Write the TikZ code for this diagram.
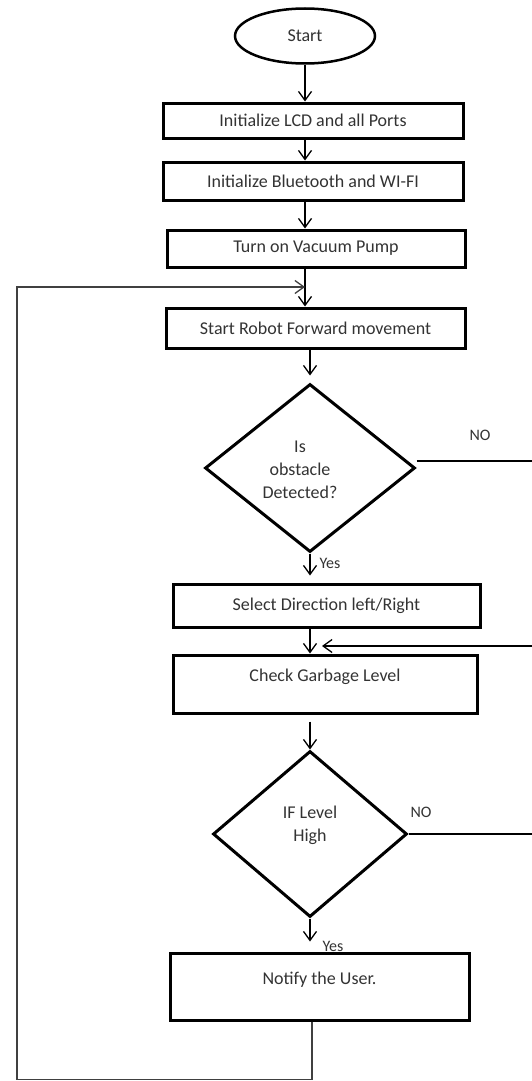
\documentclass[tikz,border=0pt]{standalone}
\usepackage{fontspec}
\setmainfont{Carlito}
\usetikzlibrary{shapes.geometric,arrows.meta}
\begin{document}
\begin{tikzpicture}[x=1pt,y=-1pt,
  txt/.style={font=\fontsize{18}{23}\selectfont, text=black!80},
  stepbox/.style={txt, draw, rectangle, line width=3pt, inner sep=0pt},
  decision/.style={txt, draw, diamond, line width=3pt, inner sep=0pt},
  terminal/.style={txt, draw, ellipse, line width=2.5pt, inner sep=0pt},
  lbl/.style={font=\fontsize{16}{19}\selectfont, text=black!80, inner sep=0pt},
  flow/.style={line width=1.3pt, -{Straight Barb[length=9pt,width=13pt,line width=1.3pt]}},
  wire/.style={line width=1.3pt}
]
\useasboundingbox (0,0) rectangle (532,1081);

% process column
\node[terminal, minimum width=140, minimum height=55] (start) at (305,36) {Start};
\node[stepbox, minimum width=300, minimum height=35] (b1) at (313,120.5) {Initialize LCD and all Ports};
\node[stepbox, minimum width=300, minimum height=38] (b2) at (313,181) {Initialize Bluetooth and WI-FI};
\node[stepbox, minimum width=298, minimum height=37] (b3) at (316,248.5) {Turn on Vacuum Pump};
\node[stepbox, minimum width=299, minimum height=40] (b4) at (315.5,328) {Start Robot Forward movement};
\node[decision, minimum width=210, minimum height=168] (d1) at (310,468) {};
\node[txt, align=center] (d1t) at (300,470) {Is\\obstacle\\Detected?};
\node[stepbox, minimum width=307, minimum height=43] (b5) at (326.5,605.5) {Select Direction left/Right};
\node[stepbox, minimum width=304, minimum height=58] (b6) at (325,684) {\raisebox{18pt}{Check Garbage Level}};
\node[decision, minimum width=194, minimum height=166] (d2) at (310,834) {};
\node[txt, align=center] (d2t) at (310,825) {IF Level\\High};
\node[stepbox, minimum width=299, minimum height=67] (b7) at (319.5,986.5) {\raisebox{17pt}{Notify the User.}};

% branch labels
\node[lbl] (no1) at (480,435) {NO};
\node[lbl] (yes1) at (330,563) {Yes};
\node[lbl] (no2) at (421,812) {NO};
\node[lbl] (yes2) at (333,946) {Yes};

% helper points
\coordinate (c1) at (305,0);
\coordinate (loopin) at (305,287);
\coordinate (ret) at (322,646);
\coordinate (rx) at (555,0);

% straight flow
\draw[flow] (start.south -| c1) -- (b1.north -| c1);
\draw[flow] (b1.south -| c1) -- (b2.north -| c1);
\draw[flow] (b2.south -| c1) -- (b3.north -| c1);
\draw[flow] (b3.south -| c1) -- (b4.north -| c1);
\draw[flow, shorten >=7pt] (b4.south -| d1) -- (d1.north);
\draw[flow, shorten >=7pt] (d1.south) -- (b5.north -| d1);
\draw[flow] (b5.south -| d1) -- (b6.north -| d1);
\draw[flow] ([yshift=-7pt]b6.south -| d2) -- (d2.north);
\draw[flow, shorten >=10pt] (d2.south) -- (b7.north -| d2);

% NO branches back to the garbage check
\draw[flow] ([yshift=7pt]d1.east) -- ([yshift=7pt]d1.east -| rx) |- (ret);
\draw[wire] (d2.east) -- (d2.east -| rx) -- (ret -| rx);

% loop back to forward movement
\draw[flow, draw=black!75] ([xshift=-7.5pt]b7.south) -- ++(0,58) -| (17,287) -- (loopin);
\end{tikzpicture}
\end{document}
